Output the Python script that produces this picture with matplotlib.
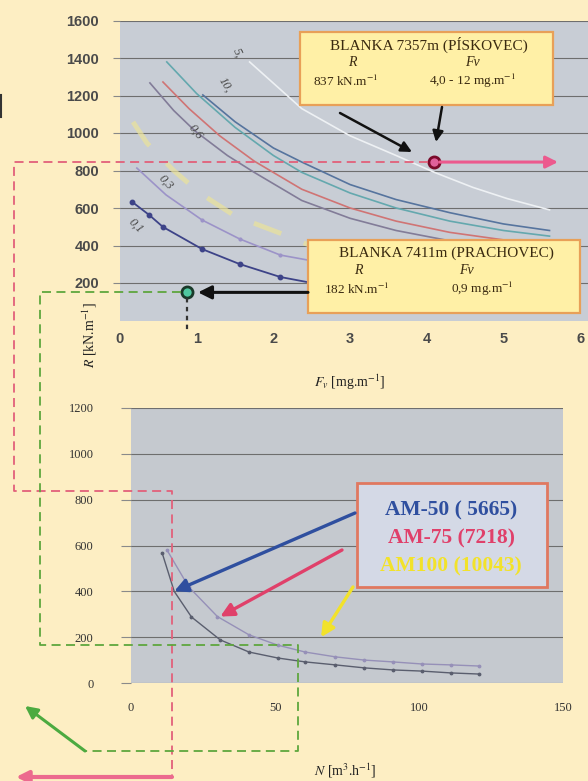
import matplotlib
matplotlib.use('Agg')
import matplotlib.pyplot as plt
import matplotlib.transforms as mtransforms
from matplotlib.lines import Line2D
from matplotlib.patches import FancyArrowPatch, Rectangle

plt.rcParams['mathtext.fontset'] = 'stix'
plt.rcParams['font.family'] = ['Liberation Sans', 'DejaVu Sans']

W, H = 588, 781
BG = '#fdeec3'
SERIF = ['Liberation Serif', 'DejaVu Serif']

# ---- top chart: R [kN/m] against Fv [mg/m] for several curves
fv_01 = [0.16, 0.38, 0.56, 1.07, 1.56, 2.09, 2.44, 3.0, 3.6]
r_01 = [632, 563, 499, 381, 301, 232, 205, 170, 140]
fv_03 = [0.22, 0.6, 1.07, 1.56, 2.09, 2.44, 3.0, 3.6]
r_03 = [813, 670, 536, 435, 349, 323, 280, 245]
fv_yel = [0.17, 0.35, 0.7, 1.04, 1.5, 2.15, 2.48, 3.0, 3.6]
r_yel = [1059, 947, 800, 680, 557, 456, 400, 350, 310]
fv_06 = [0.39, 0.7, 0.98, 1.4, 1.75, 2.37, 3.0, 3.6, 4.3, 5.0]
r_06 = [1267, 1120, 1010, 880, 790, 640, 545, 480, 425, 385]
fv_red = [0.56, 0.9, 1.3, 1.75, 2.37, 3.0, 3.6, 4.3, 5.0, 5.6]
r_red = [1272, 1130, 985, 850, 700, 600, 530, 470, 430, 400]
fv_teal = [0.61, 1.0, 1.5, 2.0, 2.37, 3.0, 3.6, 4.3, 5.0, 5.6]
r_teal = [1379, 1210, 1030, 880, 790, 680, 600, 530, 480, 450]
fv_10 = [1.08, 1.5, 2.0, 2.37, 3.0, 3.6, 4.3, 5.0, 5.6]
r_10 = [1203, 1060, 920, 845, 725, 645, 575, 515, 480]
fv_5 = [1.69, 2.37, 3.0, 3.6, 4.1, 4.6, 5.05, 5.6]
r_5 = [1379, 1130, 985, 880, 790, 710, 650, 590]

curve_labels = ['0,1', '0,3', '0,6', '10,', '5,']
label_fv = [0.2, 0.59, 0.98, 1.37, 1.53]
label_r = [504, 739, 1005, 1256, 1427]
label_rot = [-45, -48, -52, -58, -65]

# measured sites (marker positions as drawn)
site_fv = [4.09, 0.88]
site_r = [845, 150]
site_title = ['BLANKA 7357m (PÍSKOVEC)', 'BLANKA 7411m (PRACHOVEC)']
site_Rtxt = ['837 kN.m$^{-1}$', '182 kN.m$^{-1}$']
site_Fvtxt = ['4,0 - 12 mg.m$^{-1}$', '0,9 mg.m$^{-1}$']

# ---- bottom chart: R against N [m3/h]
n_am50 = [10.8, 15, 21, 31, 41, 51, 60.5, 71, 81, 91, 101, 111, 121]
r_am50 = [568, 400, 288, 188, 135, 109, 92, 79, 66, 57, 52, 44, 39]
n_am75 = [12.5, 20, 30, 41, 51, 60.5, 71, 81, 91, 101, 111, 121]
r_am75 = [580, 420, 290, 210, 165, 135, 114, 100, 92, 83, 79, 74]
fan_names = ['AM-50 ( 5665)', 'AM-75 (7218)', 'AM100 (10043)']
fan_colors = ['#2f4f9f', '#e0406a', '#f2e22a']
fan_target_n = [15, 31, 66]
fan_target_r = [400, 290, 200]

fig = plt.figure(figsize=(W / 100, H / 100), dpi=100)
fig.patch.set_facecolor(BG)
pix = mtransforms.Affine2D().scale(1.0 / W, -1.0 / H).translate(0, 1) + fig.transFigure


def to_px(ax, x, y):
    dx, dy = ax.transData.transform((x, y))
    return dx, H - dy


def route(pts, color, lw=1.3, ls=(0, (5, 3)), z=6):
    fig.add_artist(Line2D([p[0] for p in pts], [p[1] for p in pts], transform=pix,
                          color=color, lw=lw, ls=ls, zorder=z))


def arrow(a, b, color, lw=2.0, ms=16, z=7):
    fig.add_artist(FancyArrowPatch(a, b, transform=pix, arrowstyle='-|>', color=color,
                                   lw=lw, mutation_scale=ms, shrinkA=0, shrinkB=0, zorder=z))


# top axes
ax1 = fig.add_axes([120 / W, 1 - 320.5 / H, 468 / W, 300 / H])
ax1.set_facecolor('#c8cdd5')
ax1.set_xlim(0, 468 / 76.7)
ax1.set_ylim(0, 1600)
ax1.set_yticks(range(200, 1601, 200))
ax1.set_xticks(range(0, 7))
ax1.grid(axis='y', color='#6e6e6e', lw=0.8)
ax1.set_axisbelow(True)
for s in ax1.spines.values():
    s.set_visible(False)
ax1.tick_params(axis='y', length=5, color='#888888', pad=10, labelsize=10.5, labelcolor='#4a4a4a')
ax1.tick_params(axis='x', length=0, pad=8, labelsize=10.5, labelcolor='#4a4a4a')
for t in ax1.get_xticklabels() + ax1.get_yticklabels():
    t.set_fontweight('bold')

ax1.plot(fv_yel, r_yel, color='#ebe39a', lw=3.5, ls=(0, (6, 5)), alpha=0.7)
ax1.plot(fv_5, r_5, color='#eef1f4', lw=1.2)
ax1.plot(fv_10, r_10, color='#56749e', lw=1.2)
ax1.plot(fv_teal, r_teal, color='#64a8ae', lw=1.2)
ax1.plot(fv_red, r_red, color='#d07474', lw=1.2)
ax1.plot(fv_06, r_06, color='#827c98', lw=1.2)
ax1.plot(fv_03, r_03, color='#9c93c8', lw=1.2, marker='.', ms=4, markevery=[2, 3, 4])
ax1.plot(fv_01, r_01, color='#3d4388', lw=1.3, marker='o', ms=3.2, markevery=[0, 1, 2, 3, 4, 5])
for lab, x, y, rot in zip(curve_labels, label_fv, label_r, label_rot):
    ax1.text(x, y, lab, rotation=rot, ha='center', va='center', fontsize=9,
             family=SERIF, style='italic', color='#4a4a4a')

fig.text(90, 335, r'$R$ [kN.m$^{-1}$]', transform=pix, rotation=90, ha='center', va='center',
         fontsize=10, family=SERIF, color='#222222', zorder=7)
fig.text(350, 382, r'$F_v$ [mg.m$^{-1}$]', transform=pix, ha='center', va='center',
         fontsize=10, family=SERIF, color='#222222')

# bottom axes
ax2 = fig.add_axes([131 / W, 1 - 683 / H, 432 / W, 275 / H])
ax2.set_facecolor('#c5c9cf')
ax2.set_xlim(0, 150)
ax2.set_ylim(0, 1200)
ax2.set_yticks(range(0, 1201, 200))
ax2.set_xticks([0, 50, 100, 150])
ax2.grid(axis='y', color='#6e6e6e', lw=0.8)
ax2.set_axisbelow(True)
for s in ax2.spines.values():
    s.set_visible(False)
ax2.tick_params(axis='y', length=7, color='#8a8a8a', pad=20, labelsize=9, labelcolor='#333333')
ax2.tick_params(axis='x', length=0, pad=14, labelsize=9, labelcolor='#333333')
for t in ax2.get_xticklabels() + ax2.get_yticklabels():
    t.set_fontfamily(SERIF)

ax2.plot(n_am75, r_am75, color='#9690b8', lw=1.0, marker='.', ms=3.5)
ax2.plot(n_am50, r_am50, color='#5a5e6e', lw=1.0, marker='.', ms=3.5, markevery=[0] + list(range(2, 13)))
fig.text(345, 771, r'$N$ [m$^3$.h$^{-1}$]', transform=pix, ha='center', va='center',
         fontsize=10, family=SERIF, color='#222222')

# info boxes in top chart
box_xy = [(300, 32, 253, 73), (308, 240, 272, 73)]
col_R = [(346, 352), (357, 358)]
col_F = [(472, 472), (482, 466)]
for i in range(2):
    x0, y0, bw, bh = box_xy[i]
    fig.add_artist(Rectangle((x0, y0), bw, bh, transform=pix, facecolor='#fff0a6',
                             edgecolor='#e8a058', lw=1.6, zorder=5))
    fig.text(x0 + bw / 2 + 2, y0 + 13, site_title[i], transform=pix, ha='center', va='center',
             fontsize=11, family=SERIF, color='#3a2a10', zorder=6)
    fig.text(col_R[i][1], y0 + 31, 'R', transform=pix, ha='center', va='center',
             fontsize=10, family=SERIF, style='italic', color='#3a2a10', zorder=6)
    fig.text(col_F[i][1], y0 + 31, 'Fv', transform=pix, ha='center', va='center',
             fontsize=10, family=SERIF, style='italic', color='#3a2a10', zorder=6)
    fig.text(col_R[i][0], y0 + 49, site_Rtxt[i], transform=pix, ha='center', va='center',
             fontsize=9.5, family=SERIF, color='#3a2a10', zorder=6)
    fig.text(col_F[i][0], y0 + 49, site_Fvtxt[i], transform=pix, ha='center', va='center',
             fontsize=9.5, family=SERIF, color='#3a2a10', zorder=6)

# site 1: pink marker, arrows, red route down to bottom chart
p1 = to_px(ax1, site_fv[0], site_r[0])
r837 = to_px(ax2, 0, 837)[1]
route([(p1[0] - 6, p1[1]), (14, p1[1]), (14, r837), (172, r837), (172, 777)], '#e2607a')
arrow((p1[0] + 6, p1[1]), (558, p1[1]), '#ec5a8e', lw=2.2, ms=18)
arrow((172, 777), (16, 777), '#ec6a8e', lw=3, ms=18)
arrow((340, 113), (412, 152), '#111111', lw=1.8, ms=16)
arrow((442, 107), (436, 142), '#111111', lw=1.8, ms=16)
ax1.plot(site_fv[0], site_r[0], 'o', ms=8, mfc='#e0609a', mec='#7a0a2a', mew=2, zorder=8, clip_on=False)

# site 2: green marker, arrow from box, green route
p2 = to_px(ax1, site_fv[1], site_r[1])
r182 = to_px(ax2, 0, 166)[1]
route([(p2[0] - 6, p2[1]), (40, p2[1]), (40, r182), (298, r182), (298, 751), (85, 751)], '#5ea63e')
route([(p2[0], p2[1] + 6), (p2[0], 333)], '#333333', lw=1.6, ls=(0, (2, 2)))
arrow((308, p2[1]), (198, p2[1]), '#111111', lw=2.2, ms=20)
arrow((85, 751), (25, 706), '#4caa40', lw=2.2, ms=18)
ax1.plot(site_fv[1], site_r[1], 'o', ms=8, mfc='#4fc8a0', mec='#1a3a2a', mew=2, zorder=8, clip_on=False)

# small dark mark cut off at the left edge
route([(1, 95), (1, 117)], '#333333', lw=1.5, ls='-')

# legend box with fan types in bottom chart
fig.add_artist(Rectangle((357, 483), 190, 104, transform=pix, facecolor='#d4d9e6',
                         edgecolor='#e07860', lw=2, zorder=5))
for i, (name, c) in enumerate(zip(fan_names, fan_colors)):
    fig.text(451, 510 + 28 * i, name, transform=pix, ha='center', va='center', fontsize=15.5,
             family=SERIF, weight='bold', color=c, zorder=6)
starts = [(355, 513), (342, 550), (353, 587)]
for i in range(3):
    tip = to_px(ax2, fan_target_n[i], fan_target_r[i])
    arrow(starts[i], tip, fan_colors[i], lw=2.4, ms=20)

fig.savefig('out.png', dpi=100, facecolor=BG)
